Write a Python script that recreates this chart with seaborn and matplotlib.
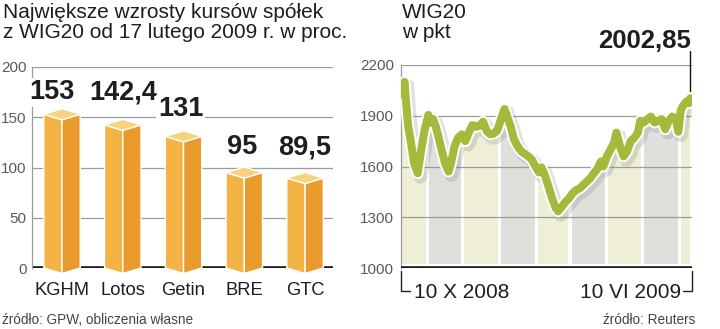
import numpy as np
import pandas as pd
import matplotlib
matplotlib.use("Agg")
import matplotlib.pyplot as plt
import matplotlib.patheffects as pe
from matplotlib.patches import Polygon
from matplotlib.lines import Line2D
import seaborn as sns

# ---------------- data ----------------
companies = ["KGHM", "Lotos", "Getin", "BRE", "GTC"]
gains = [153, 142.4, 131, 95, 89.5]
gain_labels = ["153", "142,4", "131", "95", "89,5"]

wig_dates = [
    "2008-10-10", "2008-10-13", "2008-10-14", "2008-10-16", "2008-10-18", "2008-10-21",
    "2008-10-24", "2008-10-27", "2008-10-30", "2008-11-02", "2008-11-04", "2008-11-06",
    "2008-11-08", "2008-11-10", "2008-11-13", "2008-11-16", "2008-11-19", "2008-11-21",
    "2008-11-24", "2008-11-27", "2008-11-30", "2008-12-03", "2008-12-06", "2008-12-09",
    "2008-12-12", "2008-12-15", "2008-12-18", "2008-12-21", "2008-12-24", "2008-12-27",
    "2008-12-30", "2009-01-02", "2009-01-05", "2009-01-07", "2009-01-10", "2009-01-13",
    "2009-01-16", "2009-01-19", "2009-01-22", "2009-01-25", "2009-01-28", "2009-01-31",
    "2009-02-03", "2009-02-05", "2009-02-08", "2009-02-11", "2009-02-14", "2009-02-17",
    "2009-02-19", "2009-02-22", "2009-02-25", "2009-02-28", "2009-03-03", "2009-03-06",
    "2009-03-09", "2009-03-12", "2009-03-15", "2009-03-18", "2009-03-21", "2009-03-24",
    "2009-03-27", "2009-03-29", "2009-04-01", "2009-04-04", "2009-04-07", "2009-04-09",
    "2009-04-12", "2009-04-15", "2009-04-18", "2009-04-21", "2009-04-24", "2009-04-27",
    "2009-04-29", "2009-05-02", "2009-05-05", "2009-05-08", "2009-05-11", "2009-05-14",
    "2009-05-17", "2009-05-20", "2009-05-23", "2009-05-26", "2009-05-29", "2009-05-31",
    "2009-06-02", "2009-06-04", "2009-06-07", "2009-06-09", "2009-06-10",
]
wig_values = [
    2030, 2100, 2000, 1840, 1760, 1620,
    1560, 1700, 1820, 1905, 1860, 1880,
    1840, 1790, 1700, 1620, 1570, 1620,
    1720, 1770, 1790, 1750, 1800, 1845,
    1835, 1840, 1865, 1810, 1790, 1795,
    1815, 1880, 1940, 1900, 1840, 1760,
    1720, 1690, 1675, 1660, 1640, 1600,
    1565, 1595, 1545, 1480, 1410, 1355,
    1335, 1360, 1390, 1410, 1440, 1460,
    1470, 1490, 1510, 1530, 1560, 1585,
    1630, 1600, 1660, 1700, 1740, 1800,
    1720, 1660, 1690, 1750, 1770, 1800,
    1870, 1860, 1880, 1895, 1860, 1870,
    1880, 1820, 1870, 1895, 1880, 1805,
    1930, 1960, 1985, 1975, 2002.85,
]
wig_last_label = "2002,85"
bar_ticks = [0, 50, 100, 150, 200]
wig_ticks = [1000, 1300, 1600, 1900, 2200]

# ---------------- style ----------------
sns.set_theme(style="white")
plt.rcParams["font.family"] = ["Liberation Sans", "DejaVu Sans"]

W, H = 720, 329
fig = plt.figure(figsize=(W / 100, H / 100), dpi=100)
fig.patch.set_facecolor("white")

def fx(px):
    return px / W

def fy(py):
    return 1 - py / H

ax1 = fig.add_axes([fx(32), fy(268), (333 - 32) / W, (268 - 67) / H])
ax2 = fig.add_axes([fx(401), fy(268), (692 - 401) / W, (268 - 65) / H])

grid_col = "#9c9c9c"
tick_col = "#5a5a5a"
txt_col = "#1e1e1e"

# ---------------- left: 3D bars ----------------
df = pd.DataFrame({"spolka": companies, "wzrost": gains})
sns.barplot(data=df, x="spolka", y="wzrost", ax=ax1, width=0.6,
            color="#F2B443", saturation=1)
bars = list(ax1.patches)
d = 5.5
left_c, right_c, top_c = "#F3B445", "#E99B2D", "#F8D27C"
for p in bars:
    x0, w, h = p.get_x(), p.get_width(), p.get_height()
    xm, x1 = x0 + w / 2, x0 + w
    p.set_visible(False)
    polys = [
        ([(x0, h), (xm, h - d), (xm, -d), (x0, 0)], left_c),
        ([(xm, h - d), (x1, h), (x1, 0), (xm, -d)], right_c),
        ([(x0, h), (xm, h + d), (x1, h), (xm, h - d)], top_c),
    ]
    for verts, c in polys:
        ax1.add_patch(Polygon(verts, closed=True, facecolor=c, edgecolor="white",
                              linewidth=1.0, zorder=3, clip_on=False,
                              joinstyle="round"))

label_dy = [15, 25.6, 20, 18, 23.5]
label_dx = [-0.16, 0, -0.05, -0.03, 0]
for p, lab, dy, dx in zip(bars, gain_labels, label_dy, label_dx):
    cx = p.get_x() + p.get_width() / 2 + dx
    ax1.text(cx, p.get_height() + dy, lab, ha="center", va="baseline",
             fontsize=19.5, fontweight="bold", color=txt_col, zorder=6,
             bbox=dict(facecolor="white", edgecolor="none", pad=1.0))

ax1.set_xlim(-0.494, 4.46)
ax1.set_ylim(0, 200)
ax1.set_yticks(bar_ticks)
ax1.set_yticklabels([str(t) for t in bar_ticks])
ax1.set_axisbelow(True)
ax1.grid(axis="y", color=grid_col, linewidth=0.9)
ax1.grid(axis="x", visible=False)
ax1.axhline(0, color="#1a1a1a", linewidth=2.6, zorder=2)
ax1.set_xlabel("")
ax1.set_ylabel("")
for s in ["top", "right", "bottom"]:
    ax1.spines[s].set_visible(False)
ax1.spines["left"].set_color(grid_col)
ax1.spines["left"].set_linewidth(0.9)
ax1.tick_params(axis="y", length=0, pad=4, labelsize=11, labelcolor=tick_col)
ax1.tick_params(axis="x", length=0, pad=10, labelsize=13.2, labelcolor=txt_col)
ax1.set_facecolor("none")

# ---------------- right: WIG20 line ----------------
wdf = pd.DataFrame({"data": pd.to_datetime(wig_dates), "wig20": wig_values})
x_start = wdf["data"].iloc[0]
x_end = wdf["data"].iloc[-1] + pd.Timedelta(days=1.5)

month_starts = list(pd.date_range("2008-11-01", "2009-06-01", freq="MS"))
b_starts = [x_start] + month_starts
b_ends = month_starts + [x_end]
band_cols = ["#EEEFD6", "#DFDFDB"]
gap = pd.Timedelta(days=1.3)
for i, (s, e) in enumerate(zip(b_starts, b_ends)):
    s2 = s + gap if i > 0 else s
    e2 = e - gap if i < len(b_ends) - 1 else e - pd.Timedelta(days=2.0)
    ax2.axvspan(s2, e2, ymin=0.02, ymax=1, color=band_cols[i % 2], lw=0, zorder=0.2)

ax2.fill_between(wdf["data"], wdf["wig20"], 2400, color="white", lw=0, zorder=0.3)

sns.lineplot(data=wdf, x="data", y="wig20", ax=ax2, color="#A7B93C",
             linewidth=5.8, zorder=4)
ln = ax2.lines[-1]
ln.set_solid_joinstyle("round")
ln.set_solid_capstyle("round")
ln.set_path_effects([
    pe.SimpleLineShadow(offset=(2.0, -2.5), shadow_color="#7a7a7a", alpha=0.22,
                        linewidth=10),
    pe.Stroke(linewidth=8.6, foreground="white"),
    pe.Normal(),
])

ax2.set_xlim(x_start, x_end)
ax2.set_ylim(1000, 2200)
ax2.set_yticks(wig_ticks)
ax2.set_yticklabels([str(t) for t in wig_ticks])
ax2.set_xticks([])
ax2.set_axisbelow(True)
ax2.grid(axis="y", color=grid_col, linewidth=0.9)
ax2.grid(axis="x", visible=False)
ax2.axhline(1000, color="#1a1a1a", linewidth=2.6, zorder=5)
ax2.set_xlabel("")
ax2.set_ylabel("")
for s in ["top", "right", "bottom"]:
    ax2.spines[s].set_visible(False)
ax2.spines["left"].set_color(grid_col)
ax2.spines["left"].set_linewidth(0.9)
ax2.tick_params(axis="y", length=0, pad=5, labelsize=11, labelcolor=tick_col)
ax2.set_facecolor("none")

# end-value annotation
last_d = wdf["data"].iloc[-1]
last_v = wdf["wig20"].iloc[-1]
ax2.plot([last_d, last_d], [last_v + 45, 2285], color="#111", lw=1.0,
         clip_on=False, zorder=6)
ax2.text(last_d + pd.Timedelta(days=1.0), 2300, wig_last_label, ha="right",
         va="baseline", fontsize=18.5, fontweight="bold", color=txt_col,
         clip_on=False)

# bottom date bracket
fig.add_artist(Line2D([fx(401), fx(401), fx(410)], [fy(271), fy(291), fy(291)],
                      color="#222", lw=1.0, transform=fig.transFigure))
fig.add_artist(Line2D([fx(683), fx(692), fx(692)], [fy(291), fy(291), fy(271)],
                      color="#222", lw=1.0, transform=fig.transFigure))
fig.text(fx(414), fy(292), "10 X 2008", ha="left", va="center",
         fontsize=15, color=txt_col)
fig.text(fx(681), fy(292), "10 VI 2009", ha="right", va="center",
         fontsize=15, color=txt_col)

# titles
fig.text(fx(3), fy(3), "Największe wzrosty kursów spółek\nz WIG20 od 17 lutego 2009 r. w proc.",
         ha="left", va="top", fontsize=15, color=txt_col, linespacing=1.05)
fig.text(fx(402), fy(3), "WIG20\nw pkt", ha="left", va="top",
         fontsize=15, color=txt_col, linespacing=1.05)

# sources
fig.text(fx(2), fy(320), "źródło: GPW, obliczenia własne", ha="left", va="center",
         fontsize=9.8, color="#444444")
fig.text(fx(695), fy(320), "źródło: Reuters", ha="right", va="center",
         fontsize=9.8, color="#444444")

fig.savefig("out.png", dpi=100, facecolor="white")
